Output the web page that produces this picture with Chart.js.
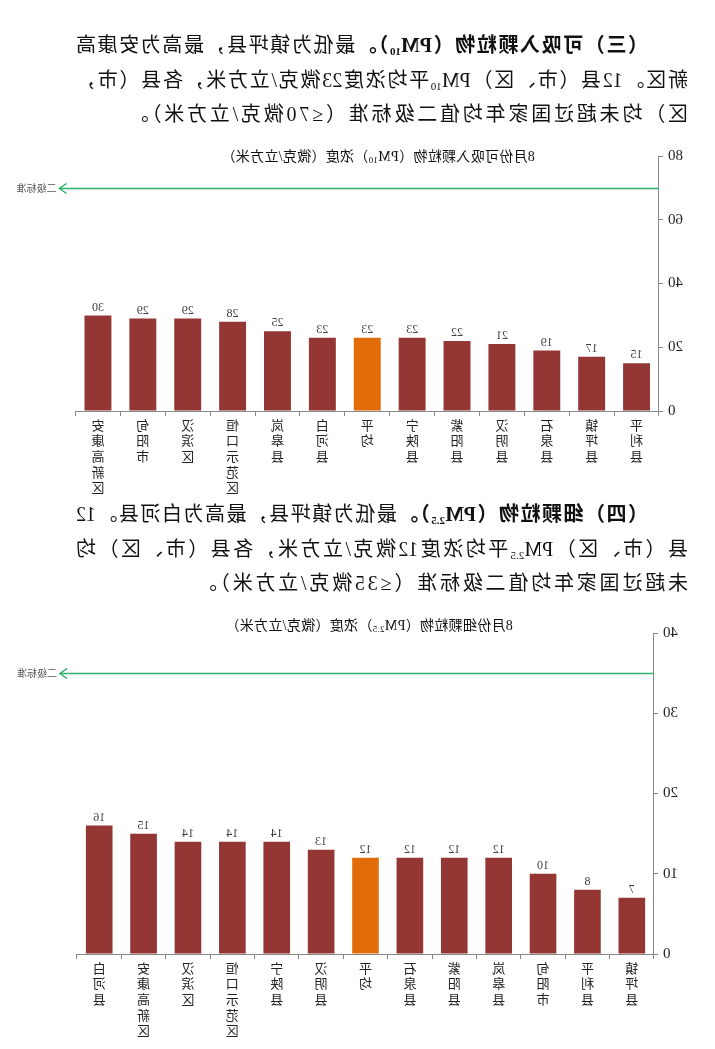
<!DOCTYPE html>
<html lang="zh-CN">
<head>
<meta charset="utf-8">
<script src="https://cdn.jsdelivr.net/npm/chart.js@4.4.1/dist/chart.umd.min.js"></script>
<style>
html,body{margin:0;padding:0;background:#fff;}
body{width:715px;height:1049px;overflow:hidden;}
#page{position:relative;width:715px;height:1049px;transform:scaleX(-1);transform-origin:50% 50%;}
.para{position:absolute;left:27px;width:612px;font-family:"Liberation Serif","Noto Sans CJK SC",serif;font-size:20px;line-height:34.5px;color:#111;}
.para .l{text-align:justify;text-align-last:justify;text-justify:inter-character;}
.para .l.first{text-indent:40px;}
.para .l.last{text-align:left;text-align-last:left;letter-spacing:2.8px;white-space:nowrap;}
.para b{font-weight:bold;}
.para sub{font-size:11px;vertical-align:-3px;line-height:0;}
.ctitle{position:absolute;transform:translateX(-50%);white-space:nowrap;font-family:"Liberation Serif","Noto Sans CJK SC",serif;font-size:14px;line-height:18px;color:#111;letter-spacing:0.3px;}
.ctitle sub{font-size:9px;vertical-align:-2px;line-height:0;}
.cwrap{position:absolute;left:0;width:715px;}
</style>
</head>
<body>
<div id="page">
  <div class="para" style="top:28px;">
    <div class="l first"><b>（三）可吸入颗粒物（PM<sub>10</sub>）。</b>最低为镇坪县，最高为安康高</div>
    <div class="l">新区。12县（市、区）PM<sub>10</sub>平均浓度23微克/立方米，各县（市，</div>
    <div class="l last">区）均未超过国家年均值二级标准（≤70微克/立方米）。</div>
  </div>
  <div class="ctitle" style="left:337px;top:148px;">8月份可吸入颗粒物（PM<sub>10</sub>）浓度（微克/立方米）</div>
  <div class="cwrap" style="top:140px;height:355px;"><canvas id="c1"></canvas></div>

  <div class="para" style="top:497px;">
    <div class="l first"><b>（四）细颗粒物（PM<sub>2.5</sub>）。</b>最低为镇坪县，最高为白河县。12</div>
    <div class="l">县（市、区）PM<sub>2.5</sub>平均浓度12微克/立方米，各县（市、区）均</div>
    <div class="l last">未超过国家年均值二级标准（≤35微克/立方米）。</div>
  </div>
  <div class="ctitle" style="left:346px;top:617px;">8月份细颗粒物（PM<sub>2.5</sub>）浓度（微克/立方米）</div>
  <div class="cwrap" style="top:610px;height:439px;"><canvas id="c2"></canvas></div>
</div>
<script>
// ---- data ----
const pm10Categories = ['平利县','镇坪县','石泉县','汉阴县','紫阳县','宁陕县','平均','白河县','岚皋县','恒口示范区','汉滨区','旬阳市','安康高新区'];
const pm10Values = [15,17,19,21,22,23,23,23,25,28,29,29,30];
const pm10AxisMax = 80;
const pm10AxisStep = 20;
const pm10Standard = 70;

const pm25Categories = ['镇坪县','平利县','旬阳市','岚皋县','紫阳县','石泉县','平均','汉阴县','宁陕县','恒口示范区','汉滨区','安康高新区','白河县'];
const pm25Values = [7,8,10,12,12,12,12,13,14,14,14,15,16];
const pm25AxisMax = 40;
const pm25AxisStep = 10;
const pm25Standard = 35;

const standardLabel = '二级标准';
const averageCategory = '平均';

// ---- plugins ----
const standardLine = {
  id: 'standardLine',
  afterDatasetsDraw(chart, args, opts) {
    const ctx = chart.ctx, ca = chart.chartArea, y = chart.scales.y;
    const py = Math.round(y.getPixelForValue(opts.value)) + 0.5;
    const x0 = ca.left, x1 = ca.right + opts.extend;
    ctx.save();
    ctx.strokeStyle = opts.color;
    ctx.lineWidth = 1.5;
    ctx.beginPath(); ctx.moveTo(x0, py); ctx.lineTo(x1, py); ctx.stroke();
    ctx.beginPath(); ctx.moveTo(x1 - 7, py - 5); ctx.lineTo(x1, py); ctx.lineTo(x1 - 7, py + 5); ctx.stroke();
    ctx.fillStyle = '#555';
    ctx.font = '10px "Noto Sans CJK SC"';
    ctx.textBaseline = 'middle';
    ctx.textAlign = 'left';
    ctx.fillText(opts.label, x1 + 3, py);
    ctx.restore();
  }
};
const valueLabels = {
  id: 'valueLabels',
  afterDatasetsDraw(chart) {
    const ctx = chart.ctx;
    const meta = chart.getDatasetMeta(0);
    const data = chart.data.datasets[0].data;
    ctx.save();
    ctx.fillStyle = '#404040';
    ctx.font = '12px "Liberation Serif"';
    ctx.textAlign = 'center';
    ctx.textBaseline = 'bottom';
    meta.data.forEach((bar, i) => ctx.fillText(String(data[i]), bar.x, bar.y - 2));
    ctx.restore();
  }
};

function makeChart(id, cats, vals, max, step, standard, geo) {
  return new Chart(document.getElementById(id), {
    type: 'bar',
    data: {
      labels: cats.map(c => Array.from(c)),
      datasets: [{
        data: vals,
        backgroundColor: cats.map(c => c === averageCategory ? '#E36C0A' : '#943634'),
        borderWidth: 0,
        categoryPercentage: 1,
        barPercentage: 0.6
      }]
    },
    options: {
      responsive: true,
      maintainAspectRatio: false,
      animation: false,
      layout: { padding: { left: 0, right: geo.right, top: geo.top, bottom: 0 } },
      plugins: {
        legend: { display: false },
        tooltip: { enabled: false },
        title: { display: false },
        standardLine: { value: standard, extend: geo.extend, color: '#2fb06c', label: standardLabel }
      },
      scales: {
        x: {
          grid: { display: true, drawOnChartArea: false, drawTicks: true, tickLength: 5, color: '#888', offset: true },
          border: { display: true, color: '#888', width: 1 },
          ticks: {
            autoSkip: false, maxRotation: 0, minRotation: 0, padding: 1,
            color: '#222',
            font: { family: '"Noto Sans CJK SC"', size: 13, lineHeight: 1.2 }
          },
          afterFit(s) { s.height = geo.xh; }
        },
        y: {
          min: 0, max: max,
          grid: { display: true, drawOnChartArea: false, drawTicks: true, tickLength: 4, color: '#888' },
          border: { display: true, color: '#888', width: 1 },
          ticks: {
            stepSize: step, padding: 5, color: '#222',
            font: { family: '"Liberation Serif"', size: 15 }
          },
          afterFit(s) { s.width = geo.yw; }
        }
      }
    },
    plugins: [standardLine, valueLabels]
  });
}

makeChart('c1', pm10Categories, pm10Values, pm10AxisMax, pm10AxisStep, pm10Standard,
  { right: 75.5, top: 16, xh: 84, yw: 56, extend: 16 });
makeChart('c2', pm25Categories, pm25Values, pm25AxisMax, pm25AxisStep, pm25Standard,
  { right: 77, top: 23, xh: 95, yw: 61, extend: 17 });
</script>
</body>
</html>
